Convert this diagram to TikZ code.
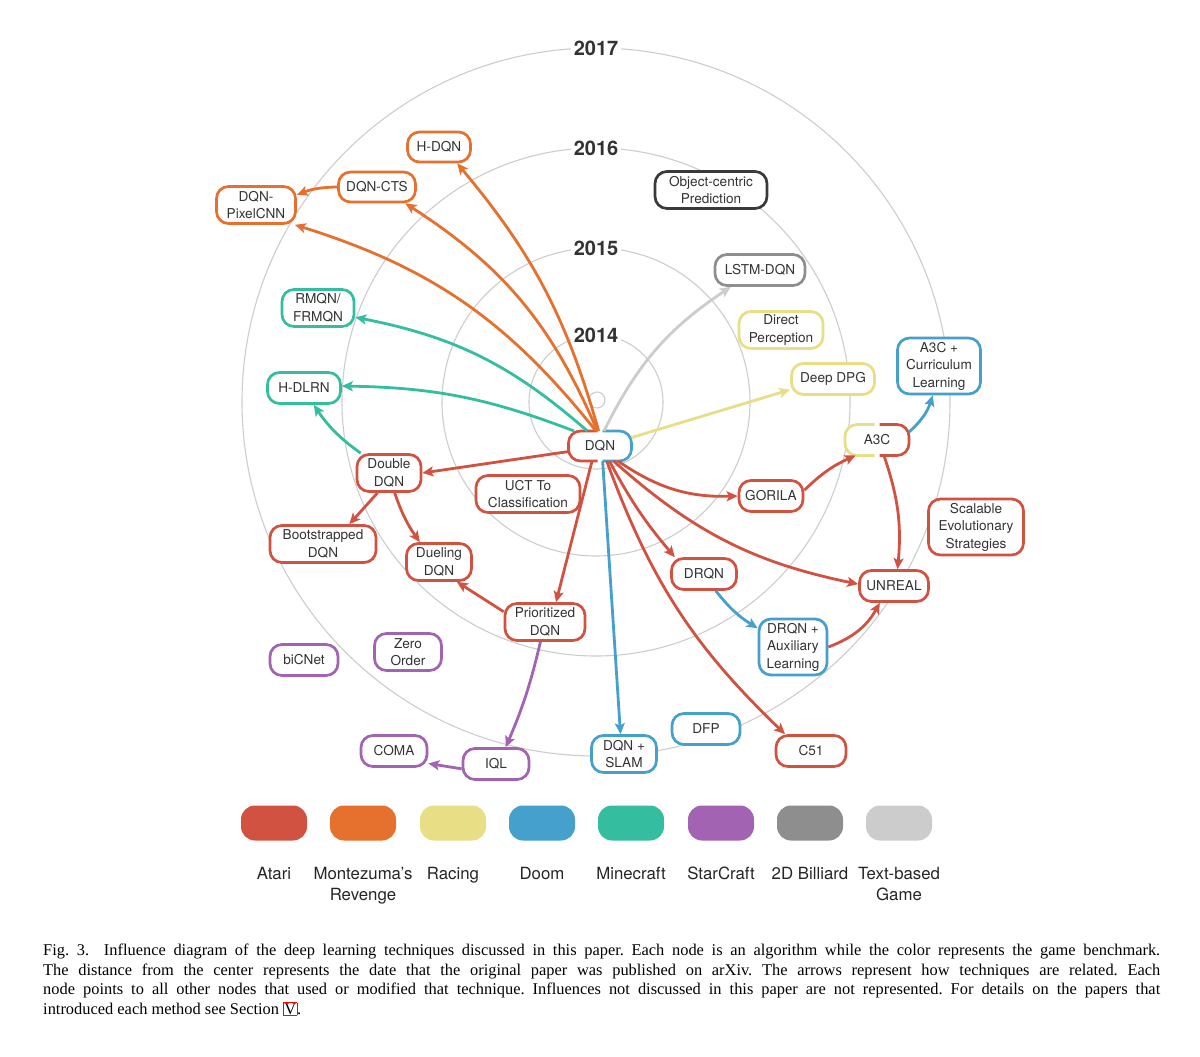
\documentclass[tikz,border=0pt]{standalone}
\usepackage{fontspec}
\setmainfont{Liberation Serif}
\newfontfamily\helv{TeX Gyre Heros}
\usetikzlibrary{arrows.meta}

\definecolor{atari}{HTML}{D15241}
\definecolor{monte}{HTML}{E6702E}
\definecolor{racing}{HTML}{E8DE85}
\definecolor{doom}{HTML}{45A0CB}
\definecolor{minecraft}{HTML}{34BE9F}
\definecolor{starcraft}{HTML}{A263B2}
\definecolor{billiard}{HTML}{8E8E8E}
\definecolor{textgame}{HTML}{CCCCCC}
\definecolor{darkline}{HTML}{3A3A3A}
\definecolor{ringgray}{HTML}{CDCDCD}
\definecolor{ink}{HTML}{333333}

\begin{document}
\begin{tikzpicture}[x=1pt, y=1pt,
  ring/.style={draw=ringgray, line width=1.1pt},
  year/.style={fill=white, text=ink, inner sep=3pt, font=\helv\bfseries\fontsize{20}{24}\selectfont},
  algo/.style={draw=#1, line width=2.7pt, fill=white, rounded corners=12pt, text=ink,
    align=center, inner sep=2pt, font=\helv\fontsize{13.6}{17.5}\selectfont},
  sz/.style 2 args={minimum width=#1pt, minimum height=#2pt},
  half/.style={draw=#1, line width=2.7pt, rounded corners=12pt},
  link/.style={draw=#1, line width=2.8pt, -{Stealth[length=11pt, width=10pt, inset=2.5pt]}},
  blob/.style={fill=#1, rounded corners=14pt, minimum width=66pt, minimum height=35pt, inner sep=0pt},
  keytext/.style={text=black!85, align=center, inner sep=0pt, anchor=north,
    font=\helv\fontsize{16.8}{21}\selectfont}]
  \useasboundingbox (0,0) rectangle (1200,-1057);
  \fill[white] (0,0) rectangle (1200,-1057);

  % year rings
  \coordinate (ctr) at (596,-402);
  \draw[ring] (597,-400) circle[radius=8];
  \foreach \r/\yr in {67/2014,154/2015,254/2016,354/2017} {
    \draw[ring] (ctr) circle[radius=\r];
  }
  \foreach \r/\yr in {67/2014,154/2015,254/2016,354/2017} {
    \node[year] (y\yr) at ([yshift=\r pt]ctr) {\yr};
  }

  % DQN, split border
  \node[algo=white, draw=none, outer sep=0pt, sz={63}{30}] (DQN) at (600,-446) {DQN};
  \draw[half=atari] ([xshift=-2.5pt]DQN.north) -- (DQN.north west) -- (DQN.south west) -- ([xshift=-2.5pt]DQN.south);
  \draw[half=doom] ([xshift=2.5pt]DQN.north) -- (DQN.north east) -- (DQN.south east) -- ([xshift=2.5pt]DQN.south);

  % A3C, split border
  \node[algo=white, draw=none, outer sep=0pt, sz={64}{31}] (A3C) at (877,-440) {A3C};
  \draw[half=racing] ([xshift=-2.5pt]A3C.north) -- (A3C.north west) -- (A3C.south west) -- ([xshift=-2.5pt]A3C.south);
  \draw[half=atari] ([xshift=2.5pt]A3C.north) -- (A3C.north east) -- (A3C.south east) -- ([xshift=2.5pt]A3C.south);

  % Montezuma's Revenge
  \node[algo=monte, sz={63}{30}] (HDQN) at (439,-147) {H-DQN};
  \node[algo=monte, sz={77}{30}] (DQNCTS) at (377,-187) {DQN-CTS};
  \node[algo=monte, sz={79}{37}] (PixelCNN) at (256,-205) {DQN-\\PixelCNN};

  % other games
  \node[algo=darkline, sz={112}{37}] (ObjPred) at (711,-190) {Object-centric\\Prediction};
  \node[algo=billiard, sz={90}{31}] (LSTMDQN) at (760,-270) {LSTM-DQN};
  \node[algo=racing, sz={84}{37}] (DirPer) at (781,-330) {Direct\\Perception};
  \node[algo=racing, sz={83}{31}] (DeepDPG) at (833,-379) {Deep DPG};

  % Minecraft
  \node[algo=minecraft, sz={72}{37}] (RMQN) at (318,-308) {RMQN/\\FRMQN};
  \node[algo=minecraft, sz={73}{31}] (HDLRN) at (304,-388) {H-DLRN};

  % Doom
  \node[algo=doom, sz={83}{56}] (A3CCurr) at (939,-366) {A3C +\\Curriculum\\Learning};
  \node[algo=doom, sz={68}{56}] (DRQNAux) at (793,-647) {DRQN +\\Auxiliary\\Learning};
  \node[algo=doom, sz={68}{31}] (DFP) at (706,-729) {DFP};
  \node[algo=doom, sz={65}{37}] (DQNSLAM) at (624,-754) {DQN +\\SLAM};

  % Atari
  \node[algo=atari, sz={64}{37}] (DoubleDQN) at (389,-473) {Double\\DQN};
  \node[algo=atari, sz={104}{37}] (UCT) at (528,-494) {UCT To\\Classification};
  \node[algo=atari, sz={64}{31}] (GORILA) at (771,-496) {GORILA};
  \node[algo=atari, sz={95}{56}] (SES) at (976,-527) {Scalable\\Evolutionary\\Strategies};
  \node[algo=atari, sz={106}{37}] (BootDQN) at (323,-544) {Bootstrapped\\DQN};
  \node[algo=atari, sz={65}{37}] (DuelDQN) at (439,-562) {Dueling\\DQN};
  \node[algo=atari, sz={65}{31}] (DRQN) at (704,-574) {DRQN};
  \node[algo=atari, sz={69}{31}] (UNREAL) at (894,-586) {UNREAL};
  \node[algo=atari, sz={80}{37}] (PrioDQN) at (545,-622) {Prioritized\\DQN};
  \node[algo=atari, sz={70}{31}] (C51) at (811,-751) {C51};

  % StarCraft
  \node[algo=starcraft, sz={68}{31}] (biCNet) at (304,-660) {biCNet};
  \node[algo=starcraft, sz={67}{37}] (ZeroOrder) at (408,-652) {Zero\\Order};
  \node[algo=starcraft, sz={66}{31}] (COMA) at (394,-751) {COMA};
  \node[algo=starcraft, sz={66}{31}] (IQL) at (496,-764) {IQL};

  % influence arrows
  \draw[link=monte] (DQN.95) to[bend right=12] (HDQN.-42);
  \draw[link=monte] (DQN.100) to[bend right=17] (DQNCTS.-30);
  \draw[link=monte] (DQN.105) to[bend right=17] (PixelCNN.-27);
  \draw[link=monte] (DQNCTS.west) to[bend right=10] (PixelCNN.14);
  \draw[link=minecraft] (DQN.130) to[bend right=15] (RMQN.-14);
  \draw[link=minecraft] (DQN.150) to[bend right=10] (HDLRN.3);
  \draw[link=minecraft] (DoubleDQN.145) to[bend left=10] (HDLRN.-60);
  \draw[link=textgame] (DQN.75) to[bend left=15] (LSTMDQN.210);
  \draw[link=racing] (DQN.15) -- (DeepDPG.194);
  \draw[link=atari] (DQN.190) -- (DoubleDQN.east);
  \draw[link=atari] (DoubleDQN.240) -- (BootDQN.37);
  \draw[link=atari] (DoubleDQN.-74) to[bend right=8] (DuelDQN.134);
  \draw[link=atari] (DQN.242) -- (PrioDQN.61);
  \draw[link=atari] (PrioDQN.166) -- (DuelDQN.-48);
  \draw[link=atari] (DQN.-66) to[bend right=13] (C51.147);
  \draw[link=atari] (DQN.-58) to[bend right=6] (DRQN.150);
  \draw[link=atari] (DQN.-40) to[bend right=18] (GORILA.west);
  \draw[link=atari] (DQN.-48) to[bend right=15] (UNREAL.177);
  \draw[link=atari] (GORILA.10) to[bend left=10] (A3C.216);
  \draw[link=atari] (A3C.-66) to[bend left=12] (UNREAL.78);
  \draw[link=atari] (DRQNAux.east) to[bend right=20] (UNREAL.230);
  \draw[link=doom] (DQN.-80) -- (DQNSLAM.100);
  \draw[link=doom] (A3C.14) to[bend right=15] (A3CCurr.258);
  \draw[link=doom] (DRQN.-55) to[bend right=10] (DRQNAux.152);
  \draw[link=starcraft] (PrioDQN.257) to[bend left=5] (IQL.60);
  \draw[link=starcraft] (IQL.188) -- (COMA.-20);

  % legend
  \foreach \c/\x/\t in {atari/274/Atari, monte/363/{Montezuma’s\\Revenge}, racing/453/Racing,
      doom/542/Doom, minecraft/631/Minecraft, starcraft/721/StarCraft,
      billiard/810/2D Billiard, textgame/899/{Text-based\\Game}} {
    \node[blob=\c] (key\c) at (\x,-823) {};
    \node[keytext] (lab\c) at (\x,-867) {\t};
  }

  % caption
  \node[anchor=north west, text width=1117pt, align=justify, inner sep=0pt,
    font=\fontsize{16.4}{19.5}\selectfont\frenchspacing] (caption) at (43,-944) {\noindent
    Fig.~3.\hspace{0.9em}Influence diagram of the deep learning techniques discussed in this paper. Each node is an algorithm while the color represents the game benchmark.\linebreak
    The distance from the center represents the date that the original paper was published on arXiv. The arrows represent how techniques are related. Each\linebreak
    node points to all other nodes that used or modified that technique. Influences not discussed in this paper are not represented. For details on the papers that\linebreak
    introduced each method see Section~{\fboxsep=0.6pt\fboxrule=0.5pt\fcolorbox{red}{white}{V}}.};
\end{tikzpicture}
\end{document}
